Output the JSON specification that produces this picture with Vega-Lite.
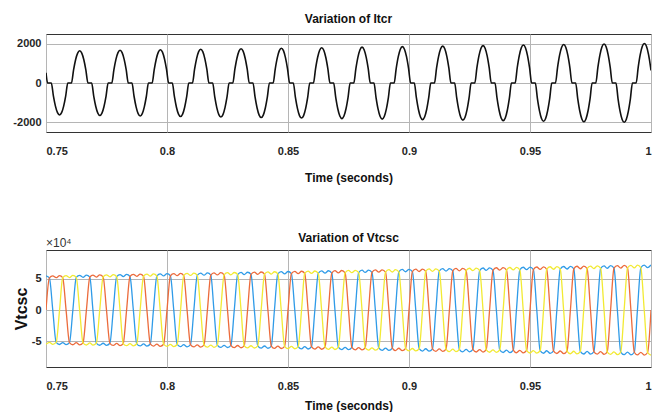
{
"$schema": "https://vega.github.io/schema/vega-lite/v6.json",
"background": "white",
"padding": {"left": 12, "top": 12, "right": 8, "bottom": 0},
"spacing": 47,
"config": {
  "font": "Liberation Sans",
  "view": {"stroke": "#333333", "strokeWidth": 1},
  "axis": {"labelFont": "Liberation Sans", "labelFontSize": 11, "labelFontWeight": "bold", "labelColor": "#262626",
           "titleFont": "Liberation Sans", "titleFontSize": 12, "titleFontWeight": "bold", "titleColor": "#111111",
           "grid": true, "gridColor": "#b5b5b5", "gridWidth": 1, "domain": false, "ticks": false, "tickSize": 0},
  "title": {"font": "Liberation Sans", "fontSize": 12, "fontWeight": "bold", "color": "#111111"}
},
"datasets": {
"itcr": [
{"t":0.75,"i":520},{"t":0.75067,"i":0},
{"t":0.7522,"i":0},{"t":0.75305,"i":-655},{"t":0.7539,"i":-1178},{"t":0.75475,"i":-1513},{"t":0.7556,"i":-1629},{"t":0.75645,"i":-1513},{"t":0.7573,"i":-1178},{"t":0.75815,"i":-655},{"t":0.759,"i":0},
{"t":0.76053,"i":0},{"t":0.76138,"i":660},{"t":0.76223,"i":1187},{"t":0.76308,"i":1525},{"t":0.76393,"i":1642},{"t":0.76478,"i":1525},{"t":0.76563,"i":1187},{"t":0.76648,"i":660},{"t":0.76733,"i":0},
{"t":0.76887,"i":0},{"t":0.76972,"i":-666},{"t":0.77057,"i":-1197},{"t":0.77142,"i":-1538},{"t":0.77227,"i":-1656},{"t":0.77312,"i":-1538},{"t":0.77397,"i":-1197},{"t":0.77482,"i":-666},{"t":0.77567,"i":0},
{"t":0.7772,"i":0},{"t":0.77805,"i":671},{"t":0.7789,"i":1207},{"t":0.77975,"i":1551},{"t":0.7806,"i":1669},{"t":0.78145,"i":1551},{"t":0.7823,"i":1207},{"t":0.78315,"i":671},{"t":0.784,"i":0},
{"t":0.78553,"i":0},{"t":0.78638,"i":-676},{"t":0.78723,"i":-1216},{"t":0.78808,"i":-1563},{"t":0.78893,"i":-1682},{"t":0.78978,"i":-1563},{"t":0.79063,"i":-1216},{"t":0.79148,"i":-676},{"t":0.79233,"i":0},
{"t":0.79387,"i":0},{"t":0.79472,"i":682},{"t":0.79557,"i":1226},{"t":0.79642,"i":1576},{"t":0.79727,"i":1696},{"t":0.79812,"i":1576},{"t":0.79897,"i":1226},{"t":0.79982,"i":682},{"t":0.80067,"i":0},
{"t":0.8022,"i":0},{"t":0.80305,"i":-687},{"t":0.8039,"i":-1236},{"t":0.80475,"i":-1588},{"t":0.8056,"i":-1709},{"t":0.80645,"i":-1588},{"t":0.8073,"i":-1236},{"t":0.80815,"i":-687},{"t":0.809,"i":0},
{"t":0.81053,"i":0},{"t":0.81138,"i":692},{"t":0.81223,"i":1245},{"t":0.81308,"i":1600},{"t":0.81393,"i":1722},{"t":0.81478,"i":1600},{"t":0.81563,"i":1245},{"t":0.81648,"i":692},{"t":0.81733,"i":0},
{"t":0.81887,"i":0},{"t":0.81972,"i":-698},{"t":0.82057,"i":-1255},{"t":0.82142,"i":-1613},{"t":0.82227,"i":-1736},{"t":0.82312,"i":-1613},{"t":0.82397,"i":-1255},{"t":0.82482,"i":-698},{"t":0.82567,"i":0},
{"t":0.8272,"i":0},{"t":0.82805,"i":703},{"t":0.8289,"i":1265},{"t":0.82975,"i":1625},{"t":0.8306,"i":1749},{"t":0.83145,"i":1625},{"t":0.8323,"i":1265},{"t":0.83315,"i":703},{"t":0.834,"i":0},
{"t":0.83553,"i":0},{"t":0.83638,"i":-708},{"t":0.83723,"i":-1274},{"t":0.83808,"i":-1637},{"t":0.83893,"i":-1762},{"t":0.83978,"i":-1637},{"t":0.84063,"i":-1274},{"t":0.84148,"i":-708},{"t":0.84233,"i":0},
{"t":0.84387,"i":0},{"t":0.84472,"i":714},{"t":0.84557,"i":1284},{"t":0.84642,"i":1650},{"t":0.84727,"i":1776},{"t":0.84812,"i":1650},{"t":0.84897,"i":1284},{"t":0.84982,"i":714},{"t":0.85067,"i":0},
{"t":0.8522,"i":0},{"t":0.85305,"i":-719},{"t":0.8539,"i":-1293},{"t":0.85475,"i":-1662},{"t":0.8556,"i":-1789},{"t":0.85645,"i":-1662},{"t":0.8573,"i":-1293},{"t":0.85815,"i":-719},{"t":0.859,"i":0},
{"t":0.86053,"i":0},{"t":0.86138,"i":724},{"t":0.86223,"i":1303},{"t":0.86308,"i":1674},{"t":0.86393,"i":1802},{"t":0.86478,"i":1674},{"t":0.86563,"i":1303},{"t":0.86648,"i":724},{"t":0.86733,"i":0},
{"t":0.86887,"i":0},{"t":0.86972,"i":-730},{"t":0.87057,"i":-1313},{"t":0.87142,"i":-1687},{"t":0.87227,"i":-1816},{"t":0.87312,"i":-1687},{"t":0.87397,"i":-1313},{"t":0.87482,"i":-730},{"t":0.87567,"i":0},
{"t":0.8772,"i":0},{"t":0.87805,"i":735},{"t":0.8789,"i":1322},{"t":0.87975,"i":1699},{"t":0.8806,"i":1829},{"t":0.88145,"i":1699},{"t":0.8823,"i":1322},{"t":0.88315,"i":735},{"t":0.884,"i":0},
{"t":0.88553,"i":0},{"t":0.88638,"i":-740},{"t":0.88723,"i":-1332},{"t":0.88808,"i":-1711},{"t":0.88893,"i":-1842},{"t":0.88978,"i":-1711},{"t":0.89063,"i":-1332},{"t":0.89148,"i":-740},{"t":0.89233,"i":0},
{"t":0.89387,"i":0},{"t":0.89472,"i":746},{"t":0.89557,"i":1342},{"t":0.89642,"i":1724},{"t":0.89727,"i":1856},{"t":0.89812,"i":1724},{"t":0.89897,"i":1342},{"t":0.89982,"i":746},{"t":0.90067,"i":0},
{"t":0.9022,"i":0},{"t":0.90305,"i":-751},{"t":0.9039,"i":-1351},{"t":0.90475,"i":-1736},{"t":0.9056,"i":-1869},{"t":0.90645,"i":-1736},{"t":0.9073,"i":-1351},{"t":0.90815,"i":-751},{"t":0.909,"i":0},
{"t":0.91053,"i":0},{"t":0.91138,"i":757},{"t":0.91223,"i":1361},{"t":0.91308,"i":1748},{"t":0.91393,"i":1882},{"t":0.91478,"i":1748},{"t":0.91563,"i":1361},{"t":0.91648,"i":757},{"t":0.91733,"i":0},
{"t":0.91887,"i":0},{"t":0.91972,"i":-762},{"t":0.92057,"i":-1371},{"t":0.92142,"i":-1761},{"t":0.92227,"i":-1896},{"t":0.92312,"i":-1761},{"t":0.92397,"i":-1371},{"t":0.92482,"i":-762},{"t":0.92567,"i":0},
{"t":0.9272,"i":0},{"t":0.92805,"i":767},{"t":0.9289,"i":1380},{"t":0.92975,"i":1773},{"t":0.9306,"i":1909},{"t":0.93145,"i":1773},{"t":0.9323,"i":1380},{"t":0.93315,"i":767},{"t":0.934,"i":0},
{"t":0.93553,"i":0},{"t":0.93638,"i":-773},{"t":0.93723,"i":-1390},{"t":0.93808,"i":-1786},{"t":0.93893,"i":-1922},{"t":0.93978,"i":-1786},{"t":0.94063,"i":-1390},{"t":0.94148,"i":-773},{"t":0.94233,"i":0},
{"t":0.94387,"i":0},{"t":0.94472,"i":778},{"t":0.94557,"i":1400},{"t":0.94642,"i":1799},{"t":0.94727,"i":1936},{"t":0.94812,"i":1799},{"t":0.94897,"i":1400},{"t":0.94982,"i":778},{"t":0.95067,"i":0},
{"t":0.9522,"i":0},{"t":0.95305,"i":-784},{"t":0.9539,"i":-1409},{"t":0.95475,"i":-1811},{"t":0.9556,"i":-1949},{"t":0.95645,"i":-1811},{"t":0.9573,"i":-1409},{"t":0.95815,"i":-784},{"t":0.959,"i":0},
{"t":0.96053,"i":0},{"t":0.96138,"i":789},{"t":0.96223,"i":1419},{"t":0.96308,"i":1823},{"t":0.96393,"i":1962},{"t":0.96478,"i":1823},{"t":0.96563,"i":1419},{"t":0.96648,"i":789},{"t":0.96733,"i":0},
{"t":0.96887,"i":0},{"t":0.96972,"i":-794},{"t":0.97057,"i":-1429},{"t":0.97142,"i":-1836},{"t":0.97227,"i":-1976},{"t":0.97312,"i":-1836},{"t":0.97397,"i":-1429},{"t":0.97482,"i":-794},{"t":0.97567,"i":0},
{"t":0.9772,"i":0},{"t":0.97805,"i":800},{"t":0.9789,"i":1438},{"t":0.97975,"i":1848},{"t":0.9806,"i":1989},{"t":0.98145,"i":1848},{"t":0.9823,"i":1438},{"t":0.98315,"i":800},{"t":0.984,"i":0},
{"t":0.98553,"i":0},{"t":0.98638,"i":-805},{"t":0.98723,"i":-1447},{"t":0.98808,"i":-1860},{"t":0.98893,"i":-2002},{"t":0.98978,"i":-1860},{"t":0.99063,"i":-1447},{"t":0.99148,"i":-805},{"t":0.99233,"i":0},
{"t":0.99387,"i":0},{"t":0.99472,"i":810},{"t":0.99557,"i":1458},{"t":0.99642,"i":1873},{"t":0.99727,"i":2016},{"t":0.99812,"i":1873},{"t":0.99897,"i":1458},{"t":0.99982,"i":810},{"t":1,"i":640}
],
"vtcsc": [
{"t":0.75,"a":54600,"b":0,"c":-54600},{"t":0.7514,"a":51500,"b":51500,"c":-51500},{"t":0.7528,"a":0,"b":54800,"c":-54800},{"t":0.7542,"a":-51700,"b":51700,"c":-51700},{"t":0.7556,"a":-55000,"b":55000,"c":0},{"t":0.7569,"a":-51900,"b":51900,"c":51900},{"t":0.7583,"a":-55200,"b":0,"c":55200},{"t":0.7597,"a":-52000,"b":-52000,"c":52000},{"t":0.7611,"a":0,"b":-55400,"c":55400},{"t":0.7625,"a":52200,"b":-52200,"c":52200},{"t":0.7639,"a":55600,"b":-55600,"c":0},{"t":0.7653,"a":52400,"b":-52400,"c":-52400},
{"t":0.7667,"a":55800,"b":0,"c":-55800},{"t":0.7681,"a":52600,"b":52600,"c":-52600},{"t":0.7694,"a":0,"b":56000,"c":-56000},{"t":0.7708,"a":-52800,"b":52800,"c":-52800},{"t":0.7722,"a":-56200,"b":56200,"c":0},{"t":0.7736,"a":-53000,"b":53000,"c":53000},{"t":0.775,"a":-56300,"b":0,"c":56300},{"t":0.7764,"a":-53100,"b":-53100,"c":53100},{"t":0.7778,"a":0,"b":-56500,"c":56500},{"t":0.7792,"a":53300,"b":-53300,"c":53300},{"t":0.7806,"a":56700,"b":-56700,"c":0},{"t":0.7819,"a":53500,"b":-53500,"c":-53500},
{"t":0.7833,"a":56900,"b":0,"c":-56900},{"t":0.7847,"a":53700,"b":53700,"c":-53700},{"t":0.7861,"a":0,"b":57100,"c":-57100},{"t":0.7875,"a":-53900,"b":53900,"c":-53900},{"t":0.7889,"a":-57300,"b":57300,"c":0},{"t":0.7903,"a":-54100,"b":54100,"c":54100},{"t":0.7917,"a":-57500,"b":0,"c":57500},{"t":0.7931,"a":-54200,"b":-54200,"c":54200},{"t":0.7944,"a":0,"b":-57700,"c":57700},{"t":0.7958,"a":54400,"b":-54400,"c":54400},{"t":0.7972,"a":57900,"b":-57900,"c":0},{"t":0.7986,"a":54600,"b":-54600,"c":-54600},
{"t":0.8,"a":58100,"b":0,"c":-58100},{"t":0.8014,"a":54800,"b":54800,"c":-54800},{"t":0.8028,"a":0,"b":58300,"c":-58300},{"t":0.8042,"a":-55000,"b":55000,"c":-55000},{"t":0.8056,"a":-58500,"b":58500,"c":0},{"t":0.8069,"a":-55200,"b":55200,"c":55200},{"t":0.8083,"a":-58700,"b":0,"c":58700},{"t":0.8097,"a":-55300,"b":-55300,"c":55300},{"t":0.8111,"a":0,"b":-58900,"c":58900},{"t":0.8125,"a":55500,"b":-55500,"c":55500},{"t":0.8139,"a":59100,"b":-59100,"c":0},{"t":0.8153,"a":55700,"b":-55700,"c":-55700},
{"t":0.8167,"a":59300,"b":0,"c":-59300},{"t":0.8181,"a":55900,"b":55900,"c":-55900},{"t":0.8194,"a":0,"b":59500,"c":-59500},{"t":0.8208,"a":-56100,"b":56100,"c":-56100},{"t":0.8222,"a":-59700,"b":59700,"c":0},{"t":0.8236,"a":-56300,"b":56300,"c":56300},{"t":0.825,"a":-59800,"b":0,"c":59800},{"t":0.8264,"a":-56400,"b":-56400,"c":56400},{"t":0.8278,"a":0,"b":-60000,"c":60000},{"t":0.8292,"a":56600,"b":-56600,"c":56600},{"t":0.8306,"a":60200,"b":-60200,"c":0},{"t":0.8319,"a":56800,"b":-56800,"c":-56800},
{"t":0.8333,"a":60400,"b":0,"c":-60400},{"t":0.8347,"a":57000,"b":57000,"c":-57000},{"t":0.8361,"a":0,"b":60600,"c":-60600},{"t":0.8375,"a":-57200,"b":57200,"c":-57200},{"t":0.8389,"a":-60800,"b":60800,"c":0},{"t":0.8403,"a":-57400,"b":57400,"c":57400},{"t":0.8417,"a":-61000,"b":0,"c":61000},{"t":0.8431,"a":-57500,"b":-57500,"c":57500},{"t":0.8444,"a":0,"b":-61200,"c":61200},{"t":0.8458,"a":57700,"b":-57700,"c":57700},{"t":0.8472,"a":61400,"b":-61400,"c":0},{"t":0.8486,"a":57900,"b":-57900,"c":-57900},
{"t":0.85,"a":61600,"b":0,"c":-61600},{"t":0.8514,"a":58100,"b":58100,"c":-58100},{"t":0.8528,"a":0,"b":61800,"c":-61800},{"t":0.8542,"a":-58300,"b":58300,"c":-58300},{"t":0.8556,"a":-62000,"b":62000,"c":0},{"t":0.8569,"a":-58500,"b":58500,"c":58500},{"t":0.8583,"a":-62200,"b":0,"c":62200},{"t":0.8597,"a":-58600,"b":-58600,"c":58600},{"t":0.8611,"a":0,"b":-62400,"c":62400},{"t":0.8625,"a":58800,"b":-58800,"c":58800},{"t":0.8639,"a":62600,"b":-62600,"c":0},{"t":0.8653,"a":59000,"b":-59000,"c":-59000},
{"t":0.8667,"a":62800,"b":0,"c":-62800},{"t":0.8681,"a":59200,"b":59200,"c":-59200},{"t":0.8694,"a":0,"b":63000,"c":-63000},{"t":0.8708,"a":-59400,"b":59400,"c":-59400},{"t":0.8722,"a":-63200,"b":63200,"c":0},{"t":0.8736,"a":-59600,"b":59600,"c":59600},{"t":0.875,"a":-63300,"b":0,"c":63300},{"t":0.8764,"a":-59700,"b":-59700,"c":59700},{"t":0.8778,"a":0,"b":-63500,"c":63500},{"t":0.8792,"a":59900,"b":-59900,"c":59900},{"t":0.8806,"a":63700,"b":-63700,"c":0},{"t":0.8819,"a":60100,"b":-60100,"c":-60100},
{"t":0.8833,"a":63900,"b":0,"c":-63900},{"t":0.8847,"a":60300,"b":60300,"c":-60300},{"t":0.8861,"a":0,"b":64100,"c":-64100},{"t":0.8875,"a":-60500,"b":60500,"c":-60500},{"t":0.8889,"a":-64300,"b":64300,"c":0},{"t":0.8903,"a":-60700,"b":60700,"c":60700},{"t":0.8917,"a":-64500,"b":0,"c":64500},{"t":0.8931,"a":-60800,"b":-60800,"c":60800},{"t":0.8944,"a":0,"b":-64700,"c":64700},{"t":0.8958,"a":61000,"b":-61000,"c":61000},{"t":0.8972,"a":64900,"b":-64900,"c":0},{"t":0.8986,"a":61200,"b":-61200,"c":-61200},
{"t":0.9,"a":65100,"b":0,"c":-65100},{"t":0.9014,"a":61400,"b":61400,"c":-61400},{"t":0.9028,"a":0,"b":65300,"c":-65300},{"t":0.9042,"a":-61600,"b":61600,"c":-61600},{"t":0.9056,"a":-65500,"b":65500,"c":0},{"t":0.9069,"a":-61800,"b":61800,"c":61800},{"t":0.9083,"a":-65700,"b":0,"c":65700},{"t":0.9097,"a":-61900,"b":-61900,"c":61900},{"t":0.9111,"a":0,"b":-65900,"c":65900},{"t":0.9125,"a":62100,"b":-62100,"c":62100},{"t":0.9139,"a":66100,"b":-66100,"c":0},{"t":0.9153,"a":62300,"b":-62300,"c":-62300},
{"t":0.9167,"a":66300,"b":0,"c":-66300},{"t":0.9181,"a":62500,"b":62500,"c":-62500},{"t":0.9194,"a":0,"b":66500,"c":-66500},{"t":0.9208,"a":-62700,"b":62700,"c":-62700},{"t":0.9222,"a":-66700,"b":66700,"c":0},{"t":0.9236,"a":-62900,"b":62900,"c":62900},{"t":0.925,"a":-66800,"b":0,"c":66800},{"t":0.9264,"a":-63000,"b":-63000,"c":63000},{"t":0.9278,"a":0,"b":-67000,"c":67000},{"t":0.9292,"a":63200,"b":-63200,"c":63200},{"t":0.9306,"a":67200,"b":-67200,"c":0},{"t":0.9319,"a":63400,"b":-63400,"c":-63400},
{"t":0.9333,"a":67400,"b":0,"c":-67400},{"t":0.9347,"a":63600,"b":63600,"c":-63600},{"t":0.9361,"a":0,"b":67600,"c":-67600},{"t":0.9375,"a":-63800,"b":63800,"c":-63800},{"t":0.9389,"a":-67800,"b":67800,"c":0},{"t":0.9403,"a":-63900,"b":63900,"c":63900},{"t":0.9417,"a":-68000,"b":0,"c":68000},{"t":0.9431,"a":-64100,"b":-64100,"c":64100},{"t":0.9444,"a":0,"b":-68200,"c":68200},{"t":0.9458,"a":64300,"b":-64300,"c":64300},{"t":0.9472,"a":68400,"b":-68400,"c":0},{"t":0.9486,"a":64500,"b":-64500,"c":-64500},
{"t":0.95,"a":68600,"b":0,"c":-68600},{"t":0.9514,"a":64700,"b":64700,"c":-64700},{"t":0.9528,"a":0,"b":68800,"c":-68800},{"t":0.9542,"a":-64900,"b":64900,"c":-64900},{"t":0.9556,"a":-69000,"b":69000,"c":0},{"t":0.9569,"a":-65000,"b":65000,"c":65000},{"t":0.9583,"a":-69200,"b":0,"c":69200},{"t":0.9597,"a":-65200,"b":-65200,"c":65200},{"t":0.9611,"a":0,"b":-69400,"c":69400},{"t":0.9625,"a":65400,"b":-65400,"c":65400},{"t":0.9639,"a":69600,"b":-69600,"c":0},{"t":0.9653,"a":65600,"b":-65600,"c":-65600},
{"t":0.9667,"a":69800,"b":0,"c":-69800},{"t":0.9681,"a":65800,"b":65800,"c":-65800},{"t":0.9694,"a":0,"b":70000,"c":-70000},{"t":0.9708,"a":-66000,"b":66000,"c":-66000},{"t":0.9722,"a":-70200,"b":70200,"c":0},{"t":0.9736,"a":-66100,"b":66100,"c":66100},{"t":0.975,"a":-70300,"b":0,"c":70300},{"t":0.9764,"a":-66300,"b":-66300,"c":66300},{"t":0.9778,"a":0,"b":-70500,"c":70500},{"t":0.9792,"a":66500,"b":-66500,"c":66500},{"t":0.9806,"a":70700,"b":-70700,"c":0},{"t":0.9819,"a":66700,"b":-66700,"c":-66700},
{"t":0.9833,"a":70900,"b":0,"c":-70900},{"t":0.9847,"a":66900,"b":66900,"c":-66900},{"t":0.9861,"a":0,"b":71100,"c":-71100},{"t":0.9875,"a":-67100,"b":67100,"c":-67100},{"t":0.9889,"a":-71300,"b":71300,"c":0},{"t":0.9903,"a":-67200,"b":67200,"c":67200},{"t":0.9917,"a":-71500,"b":0,"c":71500},{"t":0.9931,"a":-67400,"b":-67400,"c":67400},{"t":0.9944,"a":0,"b":-71700,"c":71700},{"t":0.9958,"a":67600,"b":-67600,"c":67600},{"t":0.9972,"a":71900,"b":-71900,"c":0},{"t":0.9986,"a":67800,"b":-67800,"c":-67800},
{"t":1,"a":72100,"b":0,"c":-72100}
]
},
"vconcat": [
{
  "width": 605, "height": 98,
  "title": {"text": "Variation of Itcr", "offset": 8},
  "data": {"name": "itcr"},
  "mark": {"type": "line", "color": "#111111", "strokeWidth": 1.6, "interpolate": "monotone", "clip": true},
  "encoding": {
    "x": {"field": "t", "type": "quantitative", "scale": {"domain": [0.75, 1], "nice": false, "zero": false},
          "axis": {"values": [0.75, 0.8, 0.85, 0.9, 0.95, 1], "format": "~g", "title": "Time (seconds)", "labelPadding": 13, "titlePadding": 16}},
    "y": {"field": "i", "type": "quantitative", "scale": {"domain": [-2500, 2500], "nice": false},
          "axis": {"values": [-2000, 0, 2000], "labelExpr": "datum.value + ''", "title": null, "labelPadding": 5}}
  }
},
{
  "width": 605, "height": 117,
  "title": {"text": "Variation of Vtcsc", "offset": -8},
  "layer": [
    {
      "data": {"name": "vtcsc"},
      "transform": [{"fold": ["a", "b", "c"], "as": ["phase", "v"]}],
      "mark": {"type": "line", "strokeWidth": 1.3, "interpolate": "monotone", "clip": true},
      "encoding": {
        "x": {"field": "t", "type": "quantitative", "scale": {"domain": [0.75, 1], "nice": false, "zero": false},
              "axis": {"values": [0.75, 0.8, 0.85, 0.9, 0.95, 1], "format": "~g", "title": "Time (seconds)", "labelPadding": 13, "titlePadding": 9}},
        "y": {"field": "v", "type": "quantitative", "scale": {"domain": [-91000, 96000], "nice": false},
              "axis": {"values": [-50000, 0, 50000], "labelExpr": "(datum.value / 10000) + ''", "title": "Vtcsc", "titleFontSize": 16, "titlePadding": 2, "labelPadding": 5}},
        "color": {"field": "phase", "type": "nominal", "scale": {"domain": ["a", "b", "c"], "range": ["#2f9be8", "#ec6b3c", "#f2ea33"]}, "legend": null}
      }
    },
    {
      "data": {"values": [{"label": "×10⁴"}]},
      "mark": {"type": "text", "align": "left", "baseline": "bottom", "dy": 0, "fontSize": 12, "font": "Liberation Sans", "color": "#333333"},
      "encoding": {
        "x": {"datum": 0.75, "type": "quantitative"},
        "y": {"datum": 96000, "type": "quantitative"},
        "text": {"field": "label"}
      }
    }
  ]
}
]
}
